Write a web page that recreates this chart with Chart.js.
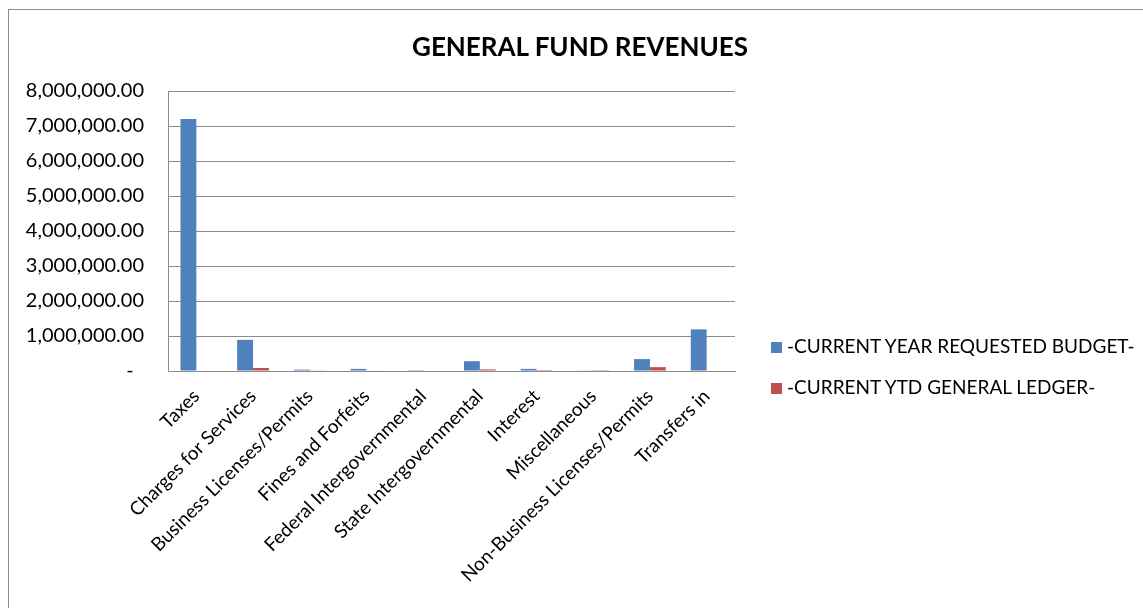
<!DOCTYPE html>
<html lang="en">
<head>
    <meta charset="UTF-8">
    <title>General Fund Revenues</title>
    <script src="https://cdn.jsdelivr.net/npm/chart.js"></script>
    <style>
        body {
            margin: 0;
            background: white;
            overflow: hidden;
            font-family: Lato, Arial, sans-serif;
        }
        .frame {
            position: absolute;
            left: 8px;
            top: 9px;
            width: 1200px;
            height: 700px;
            border: 1px solid #8c8c8c;
        }
        .wrap {
            position: absolute;
            left: 0;
            top: 0;
            width: 1143px;
            height: 608px;
        }
        .title {
            position: absolute;
            left: 380px;
            width: 400px;
            top: 30px;
            text-align: center;
            font-size: 26px;
            font-weight: bold;
            color: #000;
            white-space: nowrap;
        }
        .legend {
            position: absolute;
            left: 771px;
            top: 335px;
            font-size: 19px;
            color: #000;
        }
        .legend div {
            height: 41px;
            line-height: 22px;
            white-space: nowrap;
        }
        .legend span {
            display: inline-block;
            width: 11px;
            height: 11px;
            margin-right: 5px;
        }
    </style>
</head>
<body>
    <div class="frame"></div>
    <div class="wrap"><canvas id="revChart" width="1143" height="608"></canvas></div>
    <div class="title">GENERAL FUND REVENUES</div>
    <div class="legend" id="legend"></div>

    <script>
        const categories = ["Taxes", "Charges for Services", "Business Licenses/Permits", "Fines and Forfeits",
            "Federal Intergovernmental", "State Intergovernmental", "Interest", "Miscellaneous",
            "Non-Business Licenses/Permits", "Transfers in"];
        const budget = [7200000, 890000, 40000, 60000, 5000, 280000, 60000, 10000, 340000, 1190000];
        const ledger = [0, 85000, 10000, 12000, 0, 45000, 2000, 5000, 110000, 0];
        const seriesNames = ["-CURRENT YEAR REQUESTED BUDGET-", "-CURRENT YTD GENERAL LEDGER-"];
        const seriesColors = ["#4F81BD", "#C0504D"];
        const yMax = 8000000;
        const yStep = 1000000;

        // legend drawn as html, to sit where excel put it
        let legendHTML = "";
        seriesNames.forEach((name, i) => {
            legendHTML += `<div><span style="background:${seriesColors[i]}"></span>${name}</div>`;
        });
        document.getElementById("legend").innerHTML = legendHTML;

        function fmtMoney(v) {
            if (v === 0) return "-  ";
            return v.toLocaleString("en-US", { minimumFractionDigits: 2, maximumFractionDigits: 2 });
        }

        const ctx = document.getElementById("revChart").getContext("2d");
        new Chart(ctx, {
            type: "bar",
            data: {
                labels: categories,
                datasets: [
                    { label: seriesNames[0], data: budget, backgroundColor: seriesColors[0] },
                    { label: seriesNames[1], data: ledger, backgroundColor: seriesColors[1] }
                ]
            },
            options: {
                responsive: false,
                animation: false,
                layout: { padding: { left: 0, right: 408, top: 91, bottom: 0 } },
                datasets: { bar: { categoryPercentage: 0.56, barPercentage: 1.0 } },
                plugins: {
                    legend: { display: false },
                    tooltip: { enabled: false },
                    title: { display: false }
                },
                scales: {
                    x: {
                        grid: { display: false, drawTicks: false },
                        border: { color: "#8c8c8c", width: 1 },
                        ticks: {
                            color: "#000",
                            font: { family: "Lato", size: 19 },
                            minRotation: 45,
                            maxRotation: 45,
                            autoSkip: false,
                            padding: 14
                        },
                        afterFit: s => { s.height = 237; }
                    },
                    y: {
                        min: 0,
                        max: yMax,
                        grid: { color: "#8c8c8c", drawTicks: false },
                        border: { color: "#8c8c8c", width: 1 },
                        ticks: {
                            stepSize: yStep,
                            color: "#000",
                            font: { family: "Lato", size: 20 },
                            padding: 24,
                            callback: v => fmtMoney(v)
                        },
                        afterFit: s => { s.width = 168; }
                    }
                }
            }
        });
    </script>
</body>
</html>
